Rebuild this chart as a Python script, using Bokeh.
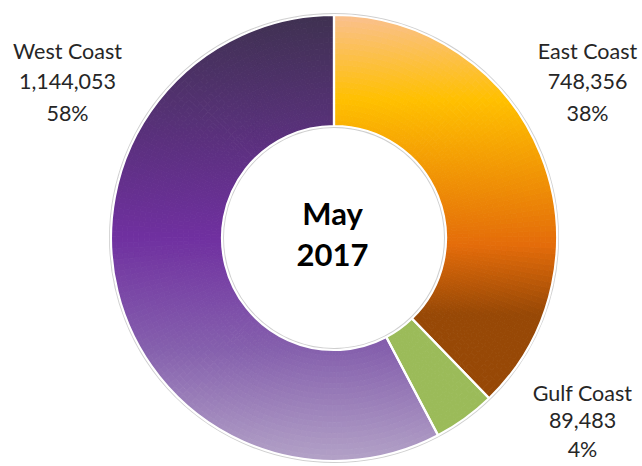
import math
import numpy as np
from bokeh.plotting import figure
from bokeh.models import Range1d, ColumnDataSource
from bokeh.embed import file_html
from bokeh.resources import INLINE
from bokeh.core.properties import value

# ---------------- data ----------------
regions = ["East Coast", "Gulf Coast", "West Coast"]
values = [748356, 89483, 1144053]
value_labels = ["748,356", "89,483", "1,144,053"]
pct_labels = ["38%", "4%", "58%"]
center_lines = ["May", "2017"]

# gradient stops (top -> bottom of each slice)
gradients = {
    "East Coast": [(0.0, "#FAC08F"), (0.22, "#FFC000"), (0.6, "#E46C0A"), (0.78, "#974806"), (1.0, "#974806")],
    "Gulf Coast": [(0.0, "#9BBB59"), (1.0, "#9BBB59")],
    "West Coast": [(0.0, "#3F3151"), (0.5, "#7030A0"), (0.75, "#8560AD"), (1.0, "#B3A2C7")],
}

# ---------------- layout ----------------
W, H = 642, 466
CX, CY = 333.5, H - 237.5
R_OUT, R_IN = 223.0, 112.0
FONT = "Lato"


def hex2rgb(h):
    h = h.lstrip("#")
    return [int(h[i:i + 2], 16) for i in (0, 2, 4)]


def grad_color(stops, t):
    t = min(max(t, 0.0), 1.0)
    for (t0, c0), (t1, c1) in zip(stops[:-1], stops[1:]):
        if t <= t1 or (t1 == stops[-1][0]):
            f = 0.0 if t1 == t0 else (t - t0) / (t1 - t0)
            f = min(max(f, 0.0), 1.0)
            a, b = hex2rgb(c0), hex2rgb(c1)
            r = [round(a[k] + (b[k] - a[k]) * f) for k in range(3)]
            return "#%02x%02x%02x" % tuple(r)
    return stops[-1][1]


total = float(sum(values))
cum = np.cumsum([0.0] + [v / total for v in values])
starts = [math.pi / 2 - 2 * math.pi * cum[i + 1] for i in range(len(values))]
ends = [math.pi / 2 - 2 * math.pi * cum[i] for i in range(len(values))]

p = figure(width=W, height=H, output_backend="svg", toolbar_location=None,
           x_range=Range1d(0, W), y_range=Range1d(0, H),
           min_border=0, min_border_left=0, min_border_right=0,
           min_border_top=0, min_border_bottom=0)
p.axis.visible = False
p.xgrid.visible = False
p.ygrid.visible = False
p.outline_line_color = None
p.background_fill_color = "white"
p.border_fill_color = "white"

# faint shadow rim
p.annulus(x=CX, y=CY, inner_radius=R_IN - 1.2, outer_radius=R_OUT + 1.2,
          fill_color=None, line_color="#BBBBBB", line_width=1.6, line_alpha=0.7)

# gradient-filled slices, built from sub-cells of each slice
xs, ys, ir, orr, sa, ea, cols = [], [], [], [], [], [], []
N_RING = 20
for i, reg in enumerate(regions):
    a0, a1 = starts[i], ends[i]
    samp = np.linspace(a0, a1, 400)
    yb = np.concatenate([CY + R_OUT * np.sin(samp), CY + R_IN * np.sin(samp)])
    ymin, ymax = yb.min(), yb.max()
    n_ang = max(2, int(math.ceil(math.degrees(a1 - a0) / 1.5)))
    angs = np.linspace(a0, a1, n_ang + 1)
    rads = np.linspace(R_IN, R_OUT, N_RING + 1)
    for j in range(n_ang):
        am = 0.5 * (angs[j] + angs[j + 1])
        for k in range(N_RING):
            rm = 0.5 * (rads[k] + rads[k + 1])
            yy = CY + rm * math.sin(am)
            t = (ymax - yy) / (ymax - ymin)
            xs.append(CX); ys.append(CY)
            ir.append(rads[k]); orr.append(rads[k + 1])
            sa.append(angs[j]); ea.append(angs[j + 1])
            cols.append(grad_color(gradients[reg], t))

cells = ColumnDataSource(dict(x=xs, y=ys, ir=ir, orr=orr, sa=sa, ea=ea, c=cols))
p.annular_wedge(x="x", y="y", inner_radius="ir", outer_radius="orr",
                start_angle="sa", end_angle="ea", fill_color="c",
                line_color="c", line_width=0.9, source=cells)

# slice outlines (white separators)
slices = ColumnDataSource(dict(region=regions, value=values,
                               start=starts, end=ends,
                               x=[CX] * len(regions), y=[CY] * len(regions)))
p.annular_wedge(x="x", y="y", inner_radius=R_IN, outer_radius=R_OUT,
                start_angle="start", end_angle="end", fill_color=None,
                line_color="white", line_width=2.2, source=slices)

# labels
lab_x = [587, 582, 67]
lab_y0 = [H - 50, H - 392, H - 50]
line_gap = [31, 28, 31]
tx, ty, tt = [], [], []
for i in range(len(regions)):
    for k, s in enumerate([regions[i], value_labels[i], pct_labels[i]]):
        tx.append(lab_x[i]); ty.append(lab_y0[i] - k * line_gap[i]); tt.append(s)
p.text(x=tx, y=ty, text=tt, text_font=value(FONT), text_font_size="21.5px",
       text_color="#262626", text_align="center", text_baseline="alphabetic")

# center title
p.text(x=[332, 332], y=[H - 212, H - 254], text=center_lines,
       text_font=value(FONT), text_font_size="31px", text_font_style="bold",
       text_color="black", text_align="center", text_baseline="alphabetic")

open("out.html", "w").write(file_html(p, INLINE))
